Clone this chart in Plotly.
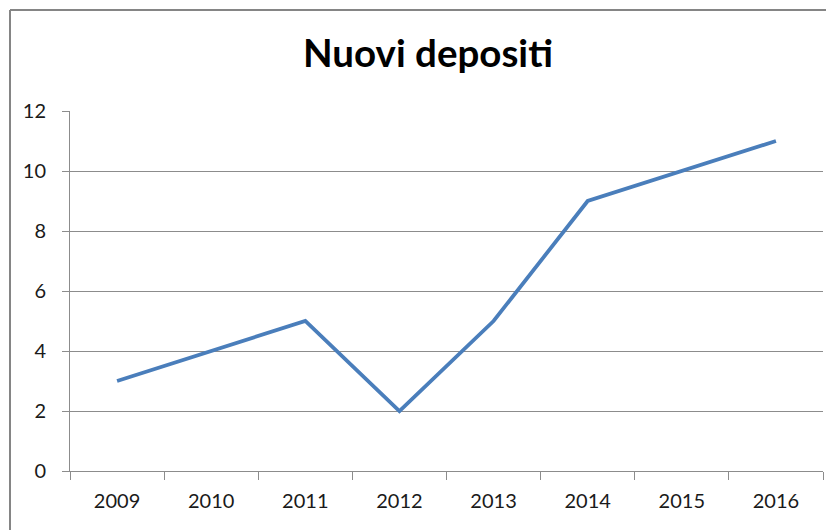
import plotly.graph_objects as go

years = ["2009", "2010", "2011", "2012", "2013", "2014", "2015", "2016"]
depositi = [3, 4, 5, 2, 5, 9, 10, 11]
title_text = "Nuovi depositi"

# page body has an 8px margin, so the figure is drawn 8px shifted
OFF = 8
W, H = 834 - OFF, 530 - OFF
L, T = 70 - OFF, 111 - OFF
pw, ph = 753, 360
R, B = W - L - pw, H - T - ph

fig = go.Figure()
fig.add_trace(go.Scatter(
    x=years, y=depositi, mode="lines",
    line=dict(color="#4A7EBB", width=3.8),
    showlegend=False, hoverinfo="x+y",
))

font_fam = "Lato, 'Open Sans', sans-serif"
grid_col = "#8C8C8C"
txt_col = "#1a1a1a"

fig.update_layout(
    width=W, height=H,
    margin=dict(l=L, r=R, t=T, b=B, pad=0),
    paper_bgcolor="white", plot_bgcolor="white",
    font=dict(family=font_fam, size=20, color=txt_col),
    title=dict(text="<b>" + title_text + "</b>", x=(428 - OFF) / W, xanchor="center",
               y=1 - (54 - OFF) / H, yanchor="middle",
               font=dict(family=font_fam, size=38.5, color="#000000")),
    xaxis=dict(
        type="category", range=[-0.5, 7.5],
        showgrid=False, showline=True, linecolor=grid_col, linewidth=1,
        ticks="outside", ticklen=8, tickcolor=grid_col, tickson="boundaries",
        ticklabelstandoff=12,
        tickfont=dict(size=20, color=txt_col),
        zeroline=False,
    ),
    yaxis=dict(
        range=[0, 12], dtick=2, tick0=0,
        showgrid=True, gridcolor=grid_col, gridwidth=1,
        showline=True, linecolor=grid_col, linewidth=1,
        ticks="outside", ticklen=7, tickcolor=grid_col,
        ticklabelstandoff=12,
        tickfont=dict(size=20, color=txt_col),
        zeroline=False,
    ),
)

# outer chart border (cropped Excel frame)
fig.add_shape(type="line", xref="paper", yref="paper",
              x0=(10 - 70) / pw, x1=(W + 20 - L) / pw,
              y0=(471 - 10) / ph, y1=(471 - 10) / ph,
              line=dict(color="#858585", width=2))
fig.add_shape(type="line", xref="paper", yref="paper",
              x0=(10 - 70) / pw, x1=(10 - 70) / pw,
              y0=(471 - 10) / ph, y1=-1,
              line=dict(color="#858585", width=2))

fig.write_html("out.html")
